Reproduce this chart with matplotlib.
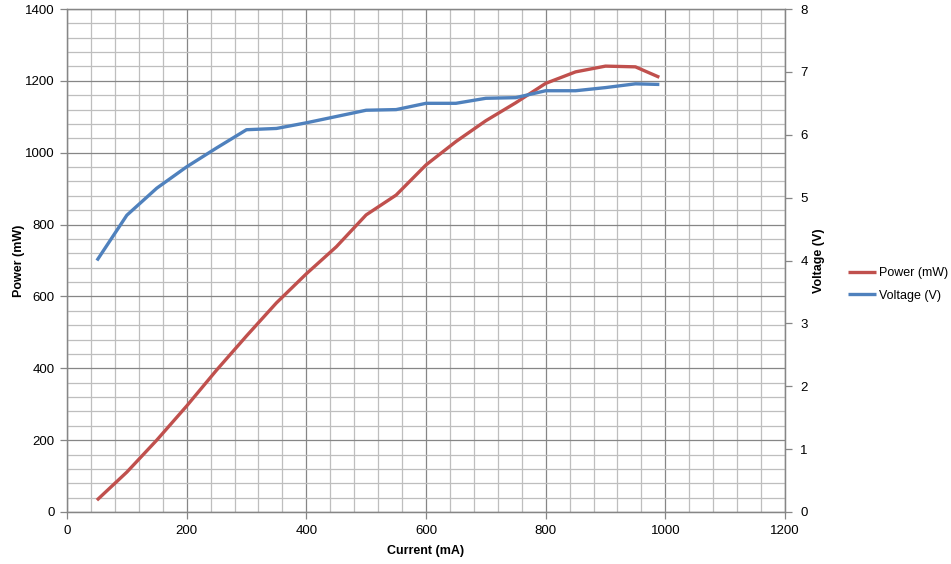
import numpy as np
import matplotlib.pyplot as plt
from matplotlib.ticker import MultipleLocator

# Data
current_ma = [50, 100, 150, 200, 250, 300, 350, 400, 450, 500,
              550, 600, 650, 700, 750, 800, 850, 900, 950, 990]
power_mw = [33, 111, 200, 295, 395, 490, 582, 663, 738, 827,
            882, 966, 1031, 1089, 1139, 1193, 1225, 1241, 1239, 1210]
voltage_v = [4.0, 4.72, 5.15, 5.49, 5.79, 6.08, 6.10, 6.19, 6.29, 6.39,
             6.40, 6.50, 6.50, 6.58, 6.59, 6.70, 6.70, 6.75, 6.81, 6.80]

red = '#C0504D'
blue = '#4F81BD'
major_c = '#868686'
minor_c = '#BEBEBE'

plt.rcParams['font.family'] = ['Liberation Sans', 'DejaVu Sans']

fig = plt.figure(figsize=(9.51, 5.64), dpi=100)
ax = fig.add_axes([67 / 951, 1 - 512 / 564, (785 - 67) / 951, (512 - 9) / 564])
ax2 = ax.twinx()

l1, = ax.plot(current_ma, power_mw, color=red, lw=2.4,
              solid_joinstyle='round', solid_capstyle='butt', label='Power (mW)')
l2, = ax2.plot(current_ma, voltage_v, color=blue, lw=2.4,
               solid_joinstyle='round', solid_capstyle='butt', label='Voltage (V)')

# Axes ranges and ticks
ax.set_xlim(0, 1200)
ax.set_ylim(0, 1400)
ax2.set_ylim(0, 8)
ax.xaxis.set_major_locator(MultipleLocator(200))
ax.xaxis.set_minor_locator(MultipleLocator(40))
ax.yaxis.set_major_locator(MultipleLocator(200))
ax.yaxis.set_minor_locator(MultipleLocator(40))
ax2.yaxis.set_major_locator(MultipleLocator(1))

# Excel-like grid
ax.set_axisbelow(True)
ax.grid(which='minor', color=minor_c, lw=0.9)
ax.grid(which='major', color=major_c, lw=0.9)

for a in (ax, ax2):
    for s in a.spines.values():
        s.set_color(major_c)
        s.set_linewidth(0.9)
ax.tick_params(which='minor', length=0)
ax.tick_params(which='major', length=5, width=0.9, color=major_c,
               labelsize=9.5, pad=4)
ax2.tick_params(which='major', length=5, width=0.9, color=major_c,
                labelsize=9.5, pad=6)

ax.set_xlabel('Current (mA)', fontsize=9, fontweight='bold', labelpad=6)
ax.set_ylabel('Power (mW)', fontsize=9, fontweight='bold', labelpad=0)
ax2.set_ylabel('Voltage (V)', fontsize=9, fontweight='bold', labelpad=4)

fig.legend(handles=[l1, l2], loc='upper left', frameon=False,
           bbox_to_anchor=(843 / 951, 1 - 262 / 564), fontsize=9,
           handlelength=2.2, handletextpad=0.25, labelspacing=0.85,
           borderaxespad=0)

fig.savefig('out.png', dpi=100)
